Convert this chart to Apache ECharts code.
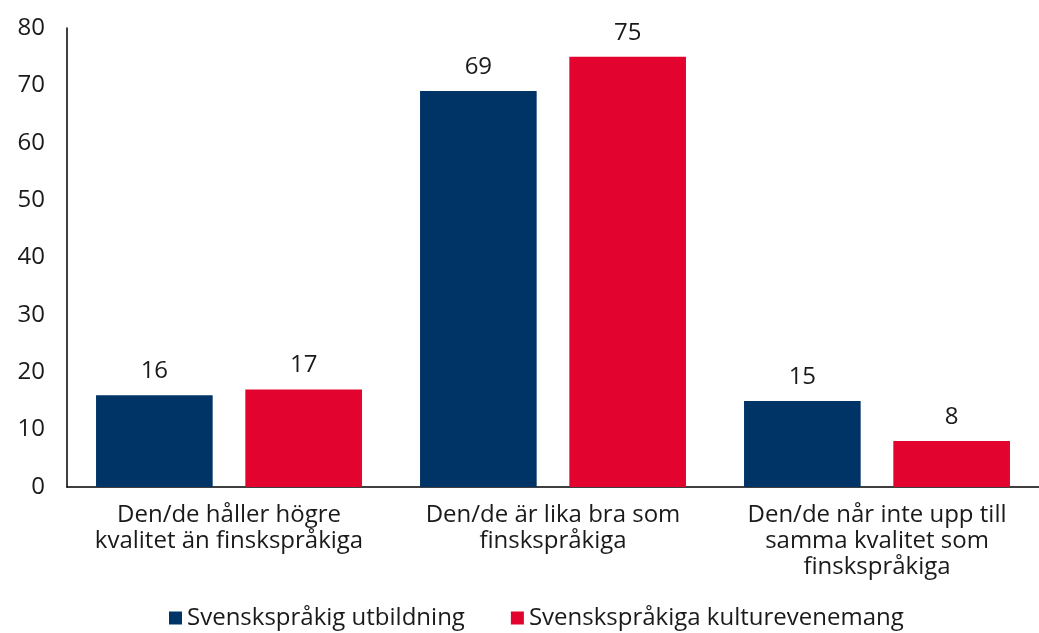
<!DOCTYPE html>
<html>
<head>
<meta charset="utf-8">
<script src="https://cdn.jsdelivr.net/npm/echarts@6/dist/echarts.min.js"></script>
<style>
  html, body { margin: 0; padding: 0; background: #fff; }
  #chart { width: 1039px; height: 633px; }
</style>
</head>
<body>
<div id="chart"></div>
<script>
const categories = [
  'Den/de håller högre\nkvalitet än finskspråkiga',
  'Den/de är lika bra som\nfinskspråkiga',
  'Den/de når inte upp till\nsamma kvalitet som\nfinskspråkiga'
]
const seriesNames = ['Svenskspråkig utbildning', 'Svenskspråkiga kulturevenemang']
const utbildning = [16, 69, 15]
const kultur = [17, 75, 8]

const font = '"Open Sans", sans-serif'
const textColor = '#1a1a1a'

const chart = echarts.init(document.getElementById('chart'))
chart.setOption({
  animation: false,
  textStyle: { fontFamily: font },
  grid: { left: 67, right: 0, top: 28, bottom: 146 },
  legend: {
    top: 606,
    left: 169,
    padding: 0,
    icon: 'rect',
    itemWidth: 13,
    itemHeight: 13,
    itemGap: 46,
    textStyle: { fontFamily: font, fontSize: 24, color: textColor },
    data: seriesNames
  },
  xAxis: {
    type: 'category',
    data: categories,
    axisLine: { lineStyle: { color: '#000', width: 1.5 } },
    axisTick: { show: false },
    axisLabel: {
      fontFamily: font,
      fontSize: 24,
      color: textColor,
      lineHeight: 26,
      margin: 15,
      interval: 0
    }
  },
  yAxis: {
    type: 'value',
    min: 0,
    max: 80,
    interval: 10,
    axisLine: { show: true, lineStyle: { color: '#000', width: 1.5 } },
    axisTick: { show: false },
    splitLine: { show: false },
    axisLabel: { fontFamily: font, fontSize: 24, color: textColor, margin: 22 }
  },
  series: [
    {
      name: seriesNames[0],
      type: 'bar',
      data: utbildning,
      barWidth: '36%',
      barGap: '28%',
      itemStyle: { color: '#003466' },
      label: { show: true, position: 'top', distance: 12, fontFamily: font, fontSize: 24, color: textColor }
    },
    {
      name: seriesNames[1],
      type: 'bar',
      data: kultur,
      barWidth: '36%',
      barGap: '28%',
      itemStyle: { color: '#e2032f' },
      label: { show: true, position: 'top', distance: 12, fontFamily: font, fontSize: 24, color: textColor }
    }
  ]
})
</script>
</body>
</html>
